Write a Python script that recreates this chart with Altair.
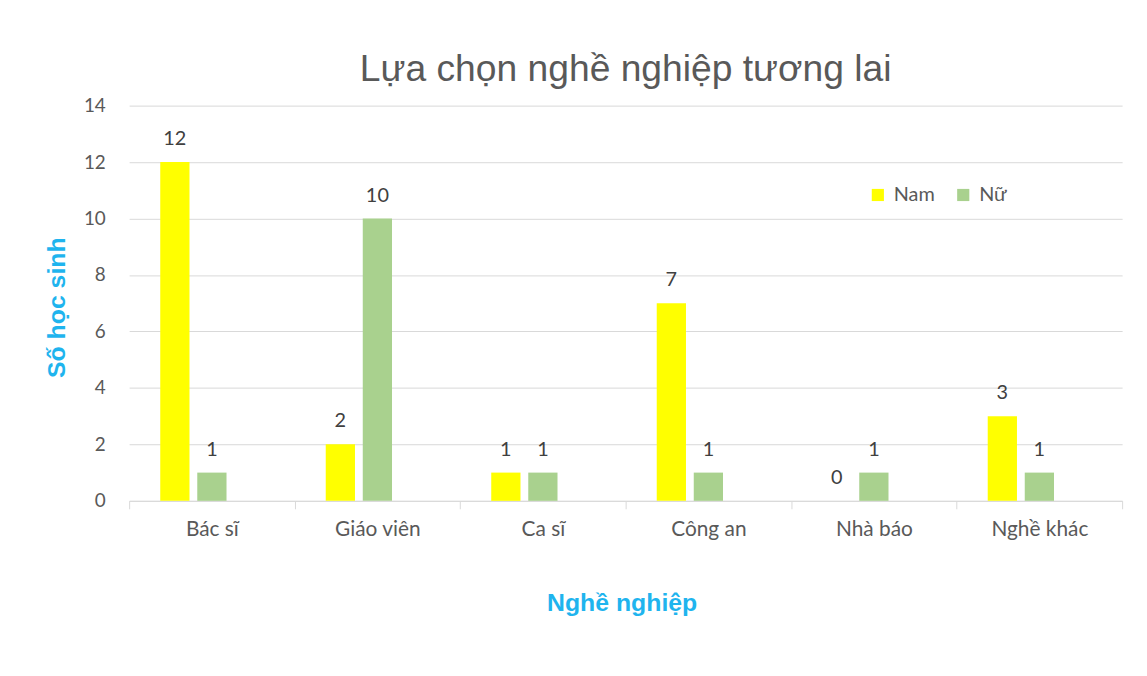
import altair as alt
import pandas as pd

categories = ["Bác sĩ", "Giáo viên", "Ca sĩ", "Công an", "Nhà báo", "Nghề khác"]
nam = [12, 2, 1, 7, 0, 3]
nu = [1, 10, 1, 1, 1, 1]
series = ["Nam", "Nữ"]
colors = ["#FFFF00", "#A9D18E"]

rows = []
for i, c in enumerate(categories):
    rows.append({"cat": c, "series": "Nam", "value": nam[i]})
    rows.append({"cat": c, "series": "Nữ", "value": nu[i]})
df = pd.DataFrame(rows)

BLUE = "#1FB4EE"
GRAY = "#595959"
LABELFONT = "Lato"

x = alt.X("cat:N", sort=categories,
          scale=alt.Scale(paddingInner=0, paddingOuter=0),
          axis=alt.Axis(title="Nghề nghiệp", labelAngle=0, tickBand="extent",
                        tickSize=8, tickColor="#D9D9D9", domainColor="#D9D9D9",
                        labelPadding=10, labelFontSize=21, labelColor=GRAY,
                        labelFont=LABELFONT,
                        titleFont="Liberation Sans", titleFontWeight="bold",
                        titleFontSize=25, titleColor=BLUE,
                        titleX=496, titleY=102, titleBaseline="middle", grid=False))
xo = alt.XOffset("series:N",
                 scale=alt.Scale(domain=["Nam", "Nữ", "_"], paddingInner=0.21, paddingOuter=0.84))
y = alt.Y("value:Q", scale=alt.Scale(domain=[0, 14]),
          axis=alt.Axis(title="Số học sinh", values=list(range(0, 15, 2)),
                        tickSize=0, domain=False, gridColor="#D9D9D9",
                        labelPadding=24, labelFontSize=19, labelColor=GRAY,
                        labelFont=LABELFONT,
                        titleFont="Liberation Sans", titleFontWeight="bold",
                        titleFontSize=25, titleColor=BLUE,
                        titleX=-73, titleY=203, titleAngle=-90,
                        titleAlign="center", titleBaseline="middle"))

bars = alt.Chart(df).mark_bar().encode(
    x=x, xOffset=xo, y=y,
    color=alt.Color("series:N", scale=alt.Scale(domain=series, range=colors),
                    legend=alt.Legend(title=None, orient="none", legendX=744, legendY=80,
                                      direction="horizontal", symbolType="square",
                                      symbolSize=150, symbolStrokeWidth=0,
                                      labelFontSize=20, labelColor=GRAY,
                                      labelFont=LABELFONT, columnPadding=18,
                                      labelOffset=6)),
)

labels = alt.Chart(df).mark_text(baseline="bottom", dy=-13, fontSize=20,
                                 color="#404040", font=LABELFONT).encode(
    x=alt.X("cat:N", sort=categories), xOffset=xo, y="value:Q", text="value:Q")

chart = alt.layer(bars, labels).properties(
    width=1000, height=398,
    title=alt.TitleParams("Lựa chọn nghề nghiệp tương lai", fontSize=37.5,
                          font="Liberation Sans", fontWeight="normal",
                          color=GRAY, anchor="middle", baseline="alphabetic",
                          offset=-22),
    autosize=alt.AutoSizeParams(type="none"),
    padding={"left": 122, "top": 96, "right": 17, "bottom": 160},
).configure_view(stroke=None)

chart.save("out.html", embed_options={"renderer": "svg", "actions": False})
